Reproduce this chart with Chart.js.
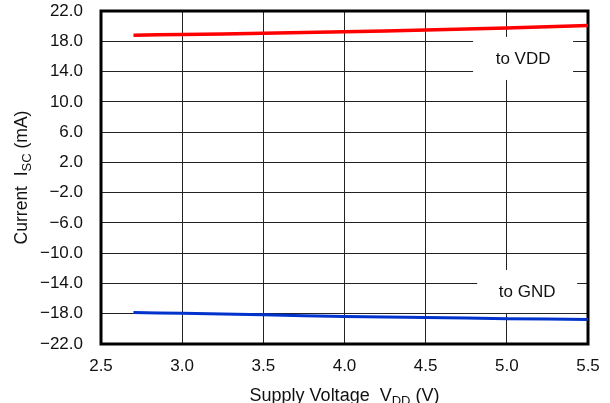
<!DOCTYPE html>
<html>
<head>
<meta charset="utf-8">
<script src="https://cdn.jsdelivr.net/npm/chart.js@4.4.1/dist/chart.umd.min.js"></script>
<style>
    html, body { margin: 0; padding: 0; background: #fff; }
    #wrap { width: 610px; height: 403px; position: relative; }
</style>
</head>
<body>
<div id="wrap"><canvas id="iscChart"></canvas></div>
<script>
// supply voltage (V)
const vdd = [2.7, 3.0, 3.5, 4.0, 4.5, 5.0, 5.5];
// short circuit current (mA)
const iscToVdd = [18.8, 18.9, 19.05, 19.25, 19.5, 19.75, 20.1];
const iscToGnd = [-17.85, -17.95, -18.15, -18.35, -18.5, -18.65, -18.75];
const xTicks = [2.5, 3.0, 3.5, 4.0, 4.5, 5.0, 5.5];
const yTicks = [22, 18, 14, 10, 6, 2, -2, -6, -10, -14, -18, -22];
const seriesLabels = ["to VDD", "to GND"];

const FONT = "'Liberation Sans', Arial, sans-serif";

function fmt(v) {
    const s = Math.abs(v).toFixed(1);
    return v < 0 ? "\u2212" + s : s;
}

// frame, white label boxes and axis titles with subscripts
const decorPlugin = {
    id: "decor",
    beforeDatasetsDraw(chart) {
        const { ctx, chartArea: a, scales } = chart;
        const x = scales.x, y = scales.y;

        // label boxes
        const boxes = [
            { text: seriesLabels[0], cx: x.getPixelForValue(5.1), cy: y.getPixelForValue(15.8) },
            { text: seriesLabels[1], cx: x.getPixelForValue(5.125), cy: y.getPixelForValue(-15.0) }
        ];
        ctx.save();
        ctx.font = "17px " + FONT;
        ctx.textAlign = "center";
        ctx.textBaseline = "middle";
        boxes.forEach(b => {
            ctx.fillStyle = "#fff";
            ctx.fillRect(b.cx - 50, b.cy - 21, 100, 43);
            ctx.fillStyle = "#111";
            ctx.fillText(b.text, b.cx, b.cy + 1);
        });

        // frame
        ctx.strokeStyle = "#000";
        ctx.lineWidth = 3;
        ctx.strokeRect(a.left, a.top, a.right - a.left, a.bottom - a.top);
        ctx.restore();
    },
    afterDraw(chart) {
        const { ctx, chartArea: a } = chart;
        ctx.save();
        ctx.fillStyle = "#111";
        ctx.textBaseline = "alphabetic";

        function drawSubText(parts, cx, cy, size) {
            // parts: [text, isSub]
            const big = size + "px " + FONT;
            const small = Math.round(size * 0.72) + "px " + FONT;
            let w = 0;
            parts.forEach(p => {
                ctx.font = p[1] ? small : big;
                w += ctx.measureText(p[0]).width;
            });
            let px = cx - w / 2;
            parts.forEach(p => {
                ctx.font = p[1] ? small : big;
                ctx.fillText(p[0], px, cy + (p[1] ? 4 : 0));
                px += ctx.measureText(p[0]).width;
            });
        }

        // x title
        drawSubText([["Supply Voltage  V", false], ["DD", true], [" (V)", false]],
            (a.left + a.right) / 2, 401, 18);

        // y title
        ctx.translate(27, (a.top + a.bottom) / 2);
        ctx.rotate(-Math.PI / 2);
        drawSubText([["Current  I", false], ["SC", true], [" (mA)", false]], 0, 0, 17.5);
        ctx.restore();
    }
};

const ctx = document.getElementById("iscChart").getContext("2d");
window.iscChart = new Chart(ctx, {
    type: "line",
    data: {
        datasets: [{
            label: seriesLabels[0],
            data: vdd.map((v, i) => ({ x: v, y: iscToVdd[i] })),
            borderColor: "#ff0000",
            borderWidth: 3.5,
            pointRadius: 0,
            tension: 0.3
        }, {
            label: seriesLabels[1],
            data: vdd.map((v, i) => ({ x: v, y: iscToGnd[i] })),
            borderColor: "#0033cc",
            borderWidth: 3,
            pointRadius: 0,
            tension: 0.3
        }]
    },
    options: {
        responsive: true,
        maintainAspectRatio: false,
        animation: false,
        layout: {
            padding: { left: 0, right: 22, top: 11, bottom: 0 }
        },
        plugins: {
            legend: { display: false },
            tooltip: { enabled: false }
        },
        scales: {
            x: {
                type: "linear",
                min: 2.5,
                max: 5.5,
                afterBuildTicks: s => { s.ticks = xTicks.map(v => ({ value: v })); },
                afterFit: s => { s.height = 59; s.paddingLeft = 0; s.paddingRight = 0; },
                grid: { color: "#222", lineWidth: 1, drawTicks: false },
                border: { display: false },
                ticks: {
                    padding: 12,
                    color: "#111",
                    font: { family: FONT, size: 17 },
                    maxRotation: 0,
                    callback: v => Number(v).toFixed(1)
                }
            },
            y: {
                min: -22,
                max: 22,
                afterBuildTicks: s => { s.ticks = yTicks.map(v => ({ value: v })); },
                afterFit: s => { s.width = 101; s.paddingTop = 0; s.paddingBottom = 0; },
                grid: { color: "#222", lineWidth: 1, drawTicks: false },
                border: { display: false },
                ticks: {
                    padding: 18,
                    color: "#111",
                    font: { family: FONT, size: 17 },
                    callback: v => fmt(v)
                }
            }
        }
    },
    plugins: [decorPlugin]
});
</script>
</body>
</html>
